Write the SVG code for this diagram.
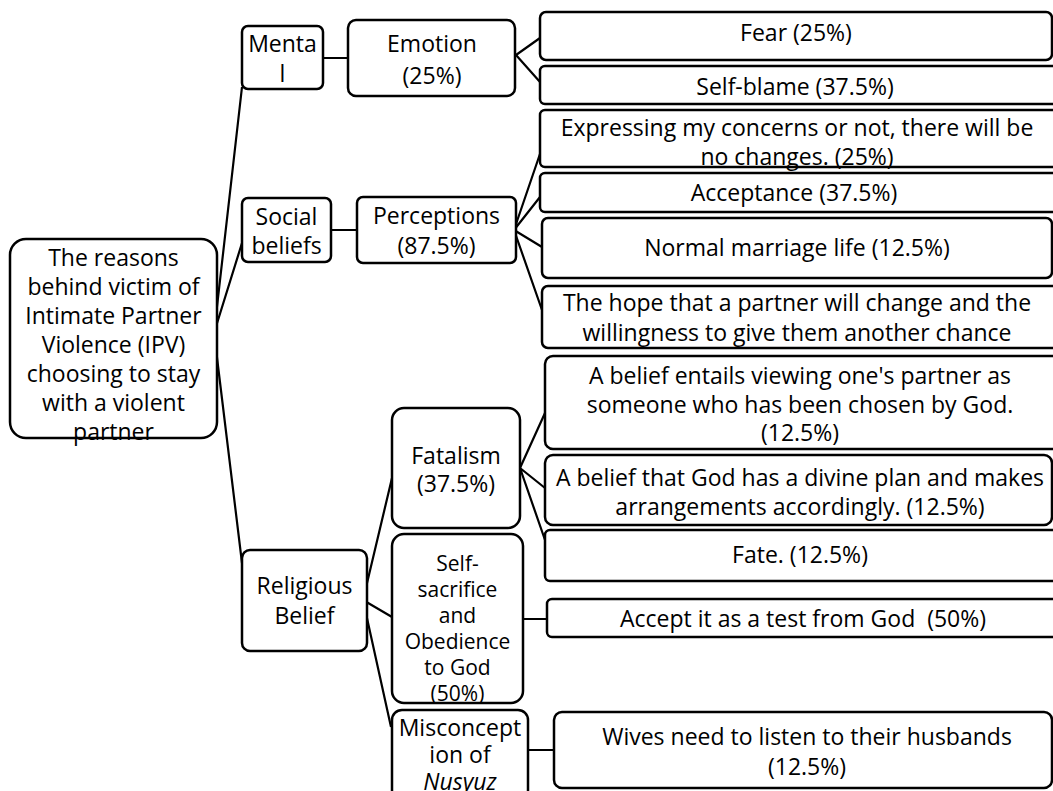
<svg xmlns="http://www.w3.org/2000/svg" width="1053" height="791" viewBox="0 0 1053 791">
<style>
.b{fill:#fff;stroke:#000;stroke-width:2.5}
.t{font-family:"Open Sans","Noto Sans","Liberation Sans",sans-serif;font-size:23px;fill:#000;text-anchor:middle}
.c{fill:none;stroke:#000;stroke-width:2.2}
</style>
<rect width="1053" height="791" fill="#fff"/>
<g id="connectors">
<path class="c" d="M214 333 L242 87 M214 333 L242 243 M214 333 L242 563"/>
<path class="c" d="M323 58 H348 M331 230 H357"/>
<path class="c" d="M516 55 L540 38 M516 55 L540 82"/>
<path class="c" d="M514 230 L542 148 M514 230 L540 197 M514 230 L542 247 M514 230 L542 310"/>
<path class="c" d="M363 600 L392 478 M363 600 L392 617 M363 600 L391 727"/>
<path class="c" d="M520 468 L545 413 M520 468 L545 488 M520 468 L545 540"/>
<path class="c" d="M523 619 H547 M528 750 H554"/>
</g>
<g id="root"><rect class="b" x="10" y="239" width="207" height="199" rx="16"/>
<text class="t"><tspan x="113.5" y="266">The reasons</tspan><tspan x="113.5" y="295">behind victim of</tspan><tspan x="113.5" y="324">Intimate Partner</tspan><tspan x="113.5" y="353">Violence (IPV)</tspan><tspan x="113.5" y="382">choosing to stay</tspan><tspan x="113.5" y="411">with a violent</tspan><tspan x="113.5" y="440">partner</tspan></text></g>
<g id="mental"><rect class="b" x="242" y="26" width="81" height="63" rx="6"/>
<text class="t"><tspan x="282.5" y="52">Menta</tspan><tspan x="282.5" y="82">l</tspan></text></g>
<g id="social"><rect class="b" x="242" y="198" width="89" height="64" rx="6"/>
<text class="t"><tspan x="286.5" y="225">Social</tspan><tspan x="286.5" y="254">beliefs</tspan></text></g>
<g id="religious"><rect class="b" x="242" y="550" width="125" height="101" rx="8"/>
<text class="t"><tspan x="304.5" y="594">Religious</tspan><tspan x="304.5" y="624">Belief</tspan></text></g>
<g id="emotion"><rect class="b" x="348" y="20" width="167" height="76" rx="8"/>
<text class="t"><tspan x="432" y="52">Emotion</tspan><tspan x="432" y="84">(25%)</tspan></text></g>
<g id="perceptions"><rect class="b" x="357" y="197" width="159" height="66" rx="6"/>
<text class="t"><tspan x="436.5" y="224">Perceptions</tspan><tspan x="436.5" y="254">(87.5%)</tspan></text></g>
<g id="fatalism"><rect class="b" x="392" y="408" width="128" height="120" rx="12"/>
<text class="t"><tspan x="456" y="464">Fatalism</tspan><tspan x="456" y="492">(37.5%)</tspan></text></g>
<g id="selfsacrifice"><rect class="b" x="392" y="534" width="131" height="169" rx="12"/>
<text class="t" style="font-size:21px"><tspan x="457.5" y="571">Self-</tspan><tspan x="457.5" y="597">sacrifice</tspan><tspan x="457.5" y="623">and</tspan><tspan x="457.5" y="649">Obedience</tspan><tspan x="457.5" y="675">to God</tspan><tspan x="457.5" y="701">(50%)</tspan></text></g>
<g id="misconception"><rect class="b" x="392" y="710" width="136" height="100" rx="10"/>
<text class="t"><tspan x="460" y="736">Misconcept</tspan><tspan x="460" y="763">ion of</tspan><tspan x="460" y="790" font-style="italic">Nusyuz</tspan></text></g>
<g id="fear"><rect class="b" x="540" y="12" width="512" height="48" rx="6"/>
<text class="t" x="796" y="41">Fear (25%)</text></g>
<g id="selfblame"><rect class="b" x="540" y="66" width="525" height="38" rx="5"/>
<text class="t" x="795" y="95">Self-blame (37.5%)</text></g>
<g id="expressing"><rect class="b" x="540" y="110" width="525" height="57" rx="5"/>
<text class="t"><tspan x="797" y="136">Expressing my concerns or not, there will be</tspan><tspan x="797" y="165">no changes. (25%)</tspan></text></g>
<g id="acceptance"><rect class="b" x="540" y="173" width="525" height="39" rx="5"/>
<text class="t" x="794" y="201">Acceptance (37.5%)</text></g>
<g id="normal"><rect class="b" x="542" y="218" width="510" height="60" rx="6"/>
<text class="t" x="797" y="256">Normal marriage life (12.5%)</text></g>
<g id="hope"><rect class="b" x="542" y="286" width="523" height="62" rx="6"/>
<text class="t"><tspan x="797" y="311">The hope that a partner will change and the</tspan><tspan x="797" y="341">willingness to give them another chance</tspan></text></g>
<g id="chosen"><rect class="b" x="545" y="356" width="520" height="93" rx="8"/>
<text class="t"><tspan x="800" y="384">A belief entails viewing one's partner as</tspan><tspan x="800" y="413">someone who has been chosen by God.</tspan><tspan x="800" y="441">(12.5%)</tspan></text></g>
<g id="plan"><rect class="b" x="545" y="455" width="507" height="70" rx="8"/>
<text class="t"><tspan x="800" y="486">A belief that God has a divine plan and makes</tspan><tspan x="800" y="515">arrangements accordingly. (12.5%)</tspan></text></g>
<g id="fate"><rect class="b" x="545" y="530" width="520" height="51" rx="5"/>
<text class="t" x="800" y="563">Fate. (12.5%)</text></g>
<g id="test"><rect class="b" x="547" y="599" width="518" height="38" rx="5"/>
<text class="t" x="803" y="627" xml:space="preserve">Accept it as a test from God  (50%)</text></g>
<g id="wives"><rect class="b" x="554" y="712" width="498" height="76" rx="8"/>
<text class="t"><tspan x="807" y="745">Wives need to listen to their husbands</tspan><tspan x="807" y="775">(12.5%)</tspan></text></g>
</svg>
